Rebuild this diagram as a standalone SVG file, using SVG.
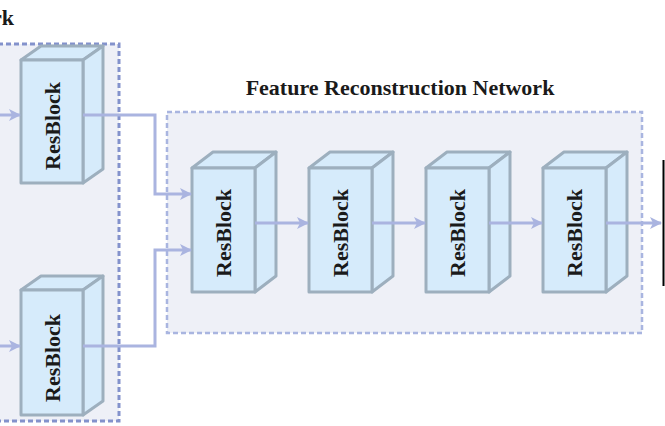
<svg xmlns="http://www.w3.org/2000/svg" width="665" height="426" viewBox="0 0 665 426">
<style>
.box{fill:#eef0f7}
.b1{fill:none;stroke:#8392cc;stroke-width:3;stroke-dasharray:5 3}
.b2{fill:none;stroke:#a9b5e0;stroke-width:2.5;stroke-dasharray:5 3}
.face{fill:#d6ebfb;stroke:#9dafbe;stroke-width:3;stroke-linejoin:round}
.lbl{font-family:"Liberation Serif","Times New Roman",serif;font-weight:bold;fill:#1a1a1a}
.rb{font-size:22px;text-anchor:middle}
.title{font-size:22px;text-anchor:middle}
.conn{fill:none;stroke:#aab4e0;stroke-width:3}
</style>
<defs>
<marker id="ah" markerWidth="12" markerHeight="12" viewBox="0 0 12 12" refX="11" refY="6" orient="auto" markerUnits="userSpaceOnUse">
<path d="M0,0 L12,6 L0,12 L3,6 Z" fill="#aab4e0"/>
</marker>
</defs>
<rect width="665" height="426" fill="#ffffff"/>

<g id="left-group">
<rect class="box" x="-10" y="44" width="129" height="377"/>
<rect class="b1" x="-10" y="44" width="129" height="377"/>
<text class="lbl title" x="14" y="25" style="text-anchor:end">rk</text>
</g>

<g id="main-group">
<rect class="box" x="167" y="112" width="475" height="221"/>
<rect class="b2" x="167" y="112" width="475" height="221"/>
<text class="lbl title" x="400" y="95">Feature Reconstruction Network</text>
</g>

<g id="left-resblock-1">
<polygon class="face" points="21,60 41,46 103,46 83,60"/>
<polygon class="face" points="83,60 103,46 103,169 83,183"/>
<rect class="face" x="21" y="60" width="62" height="123"/>
<text class="lbl rb" transform="translate(60,126) rotate(-90)">ResBlock</text>
</g>

<g id="left-resblock-2">
<polygon class="face" points="21,290 41,276 103,276 83,290"/>
<polygon class="face" points="83,290 103,276 103,401 83,415"/>
<rect class="face" x="21" y="290" width="62" height="125"/>
<text class="lbl rb" transform="translate(60,358) rotate(-90)">ResBlock</text>
</g>

<g id="resblock-1">
<polygon class="face" points="192,168 213,152 276,152 255,168"/>
<polygon class="face" points="255,168 276,152 276,276 255,292"/>
<rect class="face" x="192" y="168" width="63" height="124"/>
<text class="lbl rb" transform="translate(231,233) rotate(-90)">ResBlock</text>
</g>

<g id="resblock-2">
<polygon class="face" points="309,168 330,152 393,152 372,168"/>
<polygon class="face" points="372,168 393,152 393,276 372,292"/>
<rect class="face" x="309" y="168" width="63" height="124"/>
<text class="lbl rb" transform="translate(348,233) rotate(-90)">ResBlock</text>
</g>

<g id="resblock-3">
<polygon class="face" points="426,168 447,152 510,152 489,168"/>
<polygon class="face" points="489,168 510,152 510,276 489,292"/>
<rect class="face" x="426" y="168" width="63" height="124"/>
<text class="lbl rb" transform="translate(465,233) rotate(-90)">ResBlock</text>
</g>

<g id="resblock-4">
<polygon class="face" points="543,168 564,152 627,152 606,168"/>
<polygon class="face" points="606,168 627,152 627,276 606,292"/>
<rect class="face" x="543" y="168" width="63" height="124"/>
<text class="lbl rb" transform="translate(582,233) rotate(-90)">ResBlock</text>
</g>

<g id="output-edge">
<line x1="663.5" y1="160" x2="663.5" y2="286" stroke="#000000" stroke-width="2"/>
</g>

<g id="connectors">
<path class="conn" d="M-5,115 H20" marker-end="url(#ah)"/>
<path class="conn" d="M-5,346 H20" marker-end="url(#ah)"/>
<path class="conn" d="M83,115 H155 V194 H191" marker-end="url(#ah)"/>
<path class="conn" d="M83,346 H155 V250 H191" marker-end="url(#ah)"/>
<path class="conn" d="M255,223 H308" marker-end="url(#ah)"/>
<path class="conn" d="M372,223 H425" marker-end="url(#ah)"/>
<path class="conn" d="M489,223 H542" marker-end="url(#ah)"/>
<path class="conn" d="M606,223 H661" marker-end="url(#ah)"/>
</g>
</svg>
